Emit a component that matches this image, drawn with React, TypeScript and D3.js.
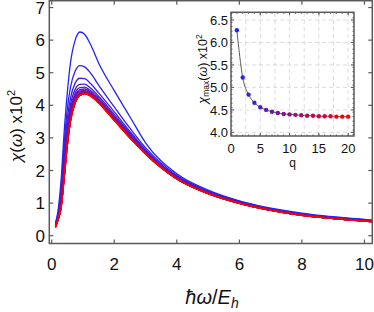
import React from "react";
import * as d3 from "d3";

// frequency grid (hbar*omega / E_h) shared by all curves
const omega = [0.12, 0.2, 0.3, 0.4, 0.5, 0.6, 0.75, 0.9, 1.05, 1.25, 1.5, 2, 2.5, 3, 4, 5, 6, 8, 10, 10.25];

// chi(omega) x10^2 for q = 1 .. 20
const chiQ1 = [0.40, 0.75, 1.70, 3.20, 4.40, 5.30, 6.00, 6.25, 6.18, 5.85, 5.30, 4.45, 3.65, 2.85, 1.90, 1.40, 1.07, 0.69, 0.50, 0.48];
const chiQ2 = [0.36, 0.68, 1.50, 2.85, 3.90, 4.55, 5.05, 5.22, 5.18, 4.98, 4.62, 3.95, 3.30, 2.70, 1.85, 1.37, 1.05, 0.67, 0.49, 0.47];
const chiQ3 = [0.33, 0.62, 1.35, 2.60, 3.60, 4.22, 4.68, 4.83, 4.82, 4.66, 4.38, 3.80, 3.20, 2.64, 1.82, 1.35, 1.04, 0.66, 0.48, 0.46];
const chiQ4 = [0.31, 0.58, 1.22, 2.40, 3.40, 4.02, 4.49, 4.64, 4.65, 4.52, 4.28, 3.72, 3.15, 2.61, 1.80, 1.34, 1.03, 0.65, 0.47, 0.45];
const chiQ5 = [0.30, 0.56, 1.14, 2.25, 3.25, 3.90, 4.38, 4.54, 4.56, 4.45, 4.22, 3.67, 3.11, 2.59, 1.79, 1.33, 1.02, 0.65, 0.47, 0.45];
const chiQ6 = [0.29, 0.54, 1.08, 2.15, 3.15, 3.82, 4.31, 4.48, 4.50, 4.41, 4.18, 3.64, 3.09, 2.57, 1.78, 1.32, 1.02, 0.64, 0.46, 0.44];
const chiQ7 = [0.29, 0.53, 1.04, 2.08, 3.08, 3.76, 4.26, 4.44, 4.46, 4.38, 4.16, 3.62, 3.07, 2.56, 1.77, 1.32, 1.01, 0.64, 0.46, 0.44];
const chiQ8 = [0.28, 0.52, 1.00, 2.02, 3.02, 3.72, 4.22, 4.41, 4.43, 4.36, 4.14, 3.60, 3.06, 2.55, 1.77, 1.31, 1.01, 0.64, 0.46, 0.44];
const chiQ9 = [0.28, 0.51, 0.97, 1.98, 2.98, 3.68, 4.19, 4.38, 4.41, 4.34, 4.13, 3.59, 3.05, 2.54, 1.76, 1.31, 1.01, 0.63, 0.46, 0.44];
const chiQ10 = [0.28, 0.51, 0.95, 1.94, 2.94, 3.65, 4.17, 4.37, 4.40, 4.33, 4.12, 3.58, 3.04, 2.54, 1.76, 1.31, 1.00, 0.63, 0.46, 0.44];
const chiQ11 = [0.27, 0.50, 0.93, 1.91, 2.91, 3.62, 4.15, 4.35, 4.39, 4.32, 4.11, 3.57, 3.03, 2.53, 1.76, 1.30, 1.00, 0.63, 0.45, 0.43];
const chiQ12 = [0.27, 0.50, 0.92, 1.88, 2.88, 3.60, 4.14, 4.34, 4.38, 4.31, 4.10, 3.57, 3.03, 2.53, 1.75, 1.30, 1.00, 0.63, 0.45, 0.43];
const chiQ13 = [0.27, 0.49, 0.90, 1.86, 2.86, 3.58, 4.12, 4.33, 4.37, 4.31, 4.10, 3.56, 3.02, 2.52, 1.75, 1.30, 1.00, 0.63, 0.45, 0.43];
const chiQ14 = [0.27, 0.49, 0.89, 1.84, 2.84, 3.56, 4.11, 4.32, 4.37, 4.30, 4.09, 3.56, 3.02, 2.52, 1.75, 1.30, 1.00, 0.62, 0.45, 0.43];
const chiQ15 = [0.26, 0.49, 0.88, 1.82, 2.82, 3.55, 4.10, 4.32, 4.36, 4.30, 4.09, 3.55, 3.01, 2.52, 1.75, 1.30, 0.99, 0.62, 0.45, 0.43];
const chiQ16 = [0.26, 0.48, 0.87, 1.81, 2.80, 3.54, 4.09, 4.31, 4.36, 4.29, 4.08, 3.55, 3.01, 2.51, 1.74, 1.29, 0.99, 0.62, 0.45, 0.43];
const chiQ17 = [0.26, 0.48, 0.87, 1.80, 2.79, 3.53, 4.09, 4.31, 4.36, 4.29, 4.08, 3.55, 3.01, 2.51, 1.74, 1.29, 0.99, 0.62, 0.45, 0.43];
const chiQ18 = [0.26, 0.48, 0.86, 1.79, 2.78, 3.52, 4.08, 4.30, 4.35, 4.29, 4.08, 3.54, 3.00, 2.51, 1.74, 1.29, 0.99, 0.62, 0.45, 0.43];
const chiQ19 = [0.26, 0.48, 0.86, 1.78, 2.77, 3.51, 4.08, 4.30, 4.35, 4.28, 4.07, 3.54, 3.00, 2.51, 1.74, 1.29, 0.99, 0.62, 0.45, 0.43];
const chiQ20 = [0.26, 0.48, 0.85, 1.77, 2.76, 3.50, 4.07, 4.30, 4.35, 4.28, 4.07, 3.54, 3.00, 2.50, 1.74, 1.29, 0.99, 0.62, 0.45, 0.43];

const curves = [chiQ1, chiQ2, chiQ3, chiQ4, chiQ5, chiQ6, chiQ7, chiQ8, chiQ9, chiQ10,
  chiQ11, chiQ12, chiQ13, chiQ14, chiQ15, chiQ16, chiQ17, chiQ18, chiQ19, chiQ20];

// inset: peak value per q
const qValues = [1, 2, 3, 4, 5, 6, 7, 8, 9, 10, 11, 12, 13, 14, 15, 16, 17, 18, 19, 20];
const chiMax = [6.27, 5.22, 4.84, 4.66, 4.56, 4.50, 4.46, 4.43, 4.41, 4.40, 4.39, 4.38, 4.37, 4.37, 4.36, 4.36, 4.36, 4.35, 4.35, 4.35];

const xTicks = [0, 2, 4, 6, 8, 10];
const yTicks = [0, 1, 2, 3, 4, 5, 6, 7];
const insetXTicks = [0, 5, 10, 15, 20];
const insetYTicks = [4.0, 4.5, 5.0, 5.5, 6.0, 6.5];

const FONT = "'Liberation Sans', Arial, sans-serif";
const AXIS = "#5a5a5a";

const colorFor = (i: number) => d3.interpolateRgb("rgb(35,35,255)", "rgb(255,0,0)")(i / (curves.length - 1));

export default function App() {
  const x = d3.scaleLinear().domain([-0.077, 10.25]).range([49.3, 372.3]);
  const y = d3.scaleLinear().domain([-0.24, 7.21]).range([243.5, 0.7]);

  const ix = d3.scaleLinear().domain([0, 21]).range([231, 354]);
  const iy = d3.scaleLinear().domain([3.92, 6.67]).range([136, 12.3]);

  const chiLine = d3
    .line<number>()
    .x((_, i) => x(omega[i]))
    .y((d) => y(d))
    .curve(d3.curveMonotoneX);

  const maxLine = d3
    .line<number>()
    .x((_, i) => ix(qValues[i]))
    .y((d) => iy(d))
    .curve(d3.curveMonotoneX);

  const [x0, x1] = x.range();
  const [y0, y1] = y.range();
  const [ix0, ix1] = ix.range();
  const [iy0, iy1] = iy.range();

  const minorQ = d3.range(1, 21);
  const minorChi = d3.range(3.95, 6.66, 0.1);

  return (
    <svg width={374} height={312} style={{ position: "absolute", left: 0, top: 0, background: "#fff" }}>
      <rect width={374} height={312} fill="#fff" />

      {/* main curves */}
      <g fill="none" strokeWidth={1.3}>
        {curves.map((c, i) => (
          <path key={i} d={chiLine(c) || ""} stroke={colorFor(i)} />
        ))}
      </g>

      {/* main frame with inward ticks */}
      <rect x={x0} y={y1} width={x1 - x0} height={y0 - y1} fill="none" stroke={AXIS} strokeWidth={1.5} />
      <g stroke={AXIS} strokeWidth={1.2}>
        {xTicks.map((t) => (
          <g key={t}>
            <line x1={x(t)} x2={x(t)} y1={y0} y2={y0 - 4} />
            <line x1={x(t)} x2={x(t)} y1={y1} y2={y1 + 4} />
          </g>
        ))}
        {yTicks.map((t) => (
          <g key={t}>
            <line x1={x0} x2={x0 + 4} y1={y(t)} y2={y(t)} />
            <line x1={x1} x2={x1 - 4} y1={y(t)} y2={y(t)} />
          </g>
        ))}
      </g>
      <g fontFamily={FONT} fontSize={17} fill="#111">
        {xTicks.map((t) => (
          <text key={t} x={x(t)} y={270} textAnchor="middle">
            {t}
          </text>
        ))}
        {yTicks.map((t) => (
          <text key={t} x={45} y={y(t)} dy="0.36em" textAnchor="end">
            {t}
          </text>
        ))}
      </g>

      {/* axis titles */}
      <text x={212} y={304} textAnchor="middle" fontFamily={FONT} fontSize={20} fill="#111">
        <tspan fontStyle="italic">ħω</tspan>
        <tspan>/</tspan>
        <tspan fontStyle="italic">E</tspan>
        <tspan fontStyle="italic" fontSize={14} dy={4}>h</tspan>
      </text>
      <text
        transform="translate(22,126) rotate(-90)"
        textAnchor="middle"
        fontFamily={FONT}
        fontSize={17}
        fill="#111"
      >
        <tspan fontStyle="italic">χ</tspan>
        <tspan>(</tspan>
        <tspan fontStyle="italic">ω</tspan>
        <tspan>) x10</tspan>
        <tspan fontSize={11} dy={-7}>2</tspan>
      </text>

      {/* inset */}
      <rect x={ix0} y={iy1} width={ix1 - ix0} height={iy0 - iy1} fill="#fff" />
      <g stroke="#d4d4d4" strokeWidth={0.8} strokeDasharray="4,3">
        {d3.range(2.5, 21, 2.5).map((t) => (
          <line key={t} x1={ix(t)} x2={ix(t)} y1={iy0} y2={iy1} />
        ))}
        {insetYTicks.map((t) => (
          <line key={t} x1={ix0} x2={ix1} y1={iy(t)} y2={iy(t)} />
        ))}
      </g>
      <g stroke={AXIS} strokeWidth={1}>
        {minorQ.map((t) => (
          <g key={t}>
            <line x1={ix(t)} x2={ix(t)} y1={iy0} y2={iy0 - 1.5} />
            <line x1={ix(t)} x2={ix(t)} y1={iy1} y2={iy1 + 1.5} />
          </g>
        ))}
        {insetXTicks.map((t) => (
          <g key={t}>
            <line x1={ix(t)} x2={ix(t)} y1={iy0} y2={iy0 - 3} />
            <line x1={ix(t)} x2={ix(t)} y1={iy1} y2={iy1 + 3} />
          </g>
        ))}
        {minorChi.map((t) => (
          <g key={t}>
            <line x1={ix0} x2={ix0 + 1.5} y1={iy(t)} y2={iy(t)} />
            <line x1={ix1} x2={ix1 - 1.5} y1={iy(t)} y2={iy(t)} />
          </g>
        ))}
        {insetYTicks.map((t) => (
          <g key={t}>
            <line x1={ix0} x2={ix0 + 3} y1={iy(t)} y2={iy(t)} />
            <line x1={ix1} x2={ix1 - 3} y1={iy(t)} y2={iy(t)} />
          </g>
        ))}
      </g>
      <rect x={ix0} y={iy1} width={ix1 - ix0} height={iy0 - iy1} fill="none" stroke={AXIS} strokeWidth={1.5} />
      <path d={maxLine(chiMax) || ""} fill="none" stroke="#333" strokeWidth={0.8} />
      {chiMax.map((v, i) => (
        <circle key={i} cx={ix(qValues[i])} cy={iy(v)} r={2.2} fill={colorFor(i)} />
      ))}
      <g fontFamily={FONT} fontSize={13} fill="#111">
        {insetXTicks.map((t) => (
          <text key={t} x={ix(t)} y={152.5} textAnchor="middle">
            {t}
          </text>
        ))}
        {insetYTicks.map((t) => (
          <text key={t} x={228} y={iy(t)} dy="0.36em" textAnchor="end">
            {t.toFixed(1)}
          </text>
        ))}
      </g>
      <text x={ix(10.5)} y={167} textAnchor="middle" fontFamily={FONT} fontSize={12} fill="#111">q</text>
      <text
        transform="translate(207,69) rotate(-90)"
        textAnchor="middle"
        fontFamily={FONT}
        fontSize={12.5}
        fill="#111"
      >
        <tspan fontStyle="italic">χ</tspan>
        <tspan fontSize={8.5} dy={2}>max</tspan>
        <tspan dy={-2}>(</tspan>
        <tspan fontStyle="italic">ω</tspan>
        <tspan>) x10</tspan>
        <tspan fontSize={8.5} dy={-5}>2</tspan>
      </text>
    </svg>
  );
}
